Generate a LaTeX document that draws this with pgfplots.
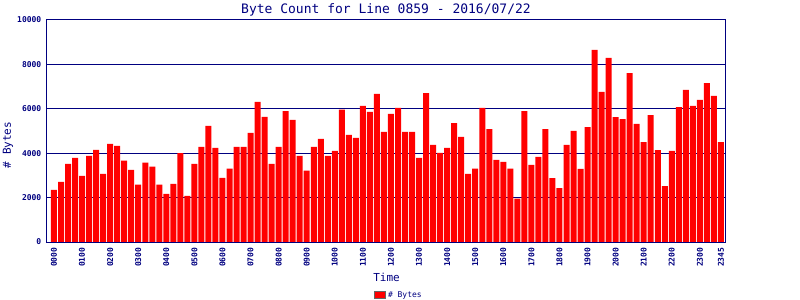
\documentclass[border=0pt]{standalone}
\usepackage{pgfplots}
\pgfplotsset{compat=1.18}
\usepackage{fontspec}
\setmainfont{DejaVu Sans Mono}
\definecolor{navy}{RGB}{0,0,128}
\begin{document}
\begin{tikzpicture}
\begin{axis}[
  at={(46.5bp,58bp)}, anchor=south west,
  scale only axis, width=679bp, height=222bp,
  ybar, bar width=6bp,
  xmin=-1.068, xmax=95.65,
  ymin=0, ymax=10000,
  axis line style={navy, line width=1bp},
  major tick length=0pt,
  ytick={0,2000,4000,6000,8000,10000},
  yticklabels={0,2000,4000,6000,8000,10000},
  scaled y ticks=false,
  ymajorgrids, grid style={navy, line width=1bp},
  xtick={0,4,8,12,16,20,24,28,32,36,40,44,48,52,56,60,64,68,72,76,80,84,88,92,95},
  xticklabels={0000,0100,0200,0300,0400,0500,0600,0700,0800,0900,1000,1100,1200,1300,1400,1500,1600,1700,1800,1900,2000,2100,2200,2300,2345},
  xticklabel style={rotate=90, anchor=east, inner sep=0pt, text=navy, font=\fontsize{8bp}{9bp}\selectfont\bfseries},
  xticklabel shift=5.5bp,
  yticklabel style={anchor=east, inner sep=0pt, text=navy, font=\fontsize{8bp}{9bp}\selectfont\bfseries},
  yticklabel shift=5bp,
  legend style={at={(0.519,-0.239)}, anchor=center, draw=none, fill=none, inner sep=0pt,
    font=\fontsize{8bp}{9bp}\selectfont, text=navy},
  legend image code/.code={\draw[fill=red, draw=gray!80!black, line width=1bp] (0bp,-3.5bp) rectangle (11bp,3.5bp);},
]
\addplot[fill=red, draw=none] coordinates {
(0,2350) (1,2710) (2,3520) (3,3790) (4,2980) (5,3880) (6,4150) (7,3070)
(8,4420) (9,4330) (10,3660) (11,3250) (12,2580) (13,3570) (14,3390) (15,2580)
(16,2170) (17,2620) (18,4000) (19,2080) (20,3520) (21,4290) (22,5230) (23,4240)
(24,2890) (25,3300) (26,4290) (27,4290) (28,4920) (29,6310) (30,5640) (31,3520)
(32,4290) (33,5900) (34,5500) (35,3880) (36,3210) (37,4285) (38,4640) (39,3880)
(40,4100) (41,5960) (42,4820) (43,4690) (44,6130) (45,5860) (46,6670) (47,4960)
(48,5770) (49,6040) (50,4960) (51,4960) (52,3790) (53,6710) (54,4370) (55,4015)
(56,4240) (57,5360) (58,4730) (59,3070) (60,3300) (61,6040) (62,5090) (63,3700)
(64,3610) (65,3300) (66,1950) (67,5900) (68,3470) (69,3830) (70,5090) (71,2880)
(72,2430) (73,4370) (74,5000) (75,3290) (76,5180) (77,8650) (78,6760) (79,8290)
(80,5630) (81,5540) (82,7610) (83,5320) (84,4500) (85,5720) (86,4140) (87,2520)
(88,4100) (89,6080) (90,6850) (91,6130) (92,6400) (93,7160) (94,6580) (95,4500)
};
\addlegendentry{\# Bytes}
\end{axis}
\node[text=navy, font=\fontsize{13bp}{15bp}\selectfont] at (386bp,290bp) {Byte Count for Line 0859 - 2016/07/22};
\node[text=navy, font=\fontsize{11bp}{13bp}\selectfont] at (386.5bp,23bp) {Time};
\node[text=navy, rotate=90, font=\fontsize{11bp}{13bp}\selectfont] at (8bp,155bp) {\# Bytes};
\pgfresetboundingbox
\path (0bp,0bp) rectangle (800bp,300bp);
\end{tikzpicture}
\end{document}
